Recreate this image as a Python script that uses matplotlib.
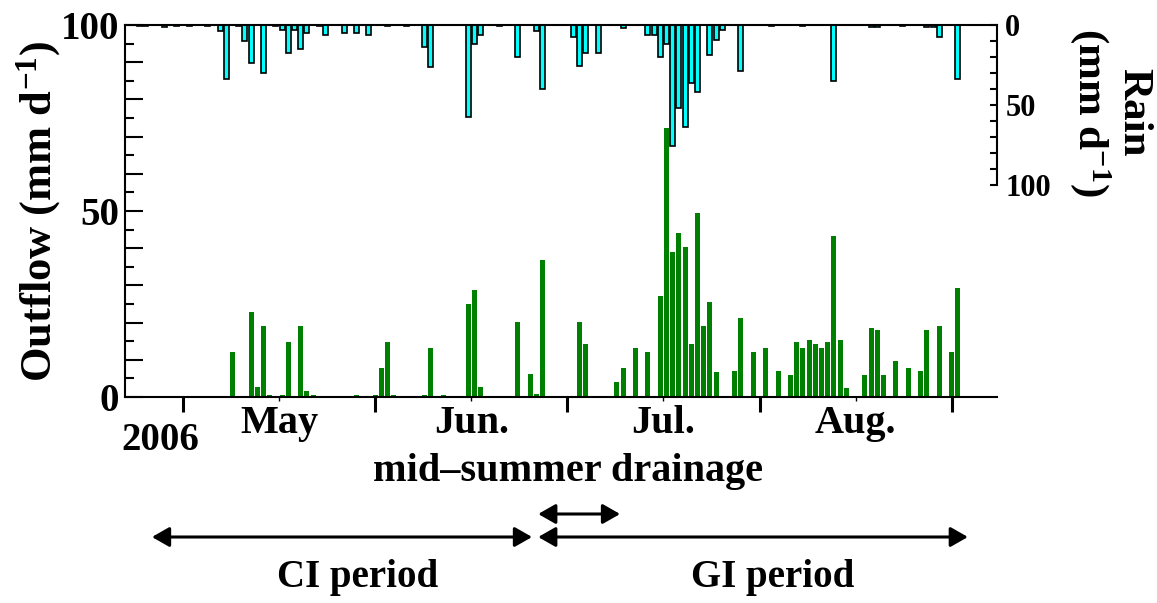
import matplotlib.pyplot as plt
from matplotlib.ticker import MultipleLocator, FuncFormatter

plt.rcParams['font.family'] = 'Liberation Serif'
plt.rcParams['font.weight'] = 'bold'
plt.rcParams['mathtext.fontset'] = 'custom'
plt.rcParams['mathtext.rm'] = 'Liberation Serif:bold'
plt.rcParams['mathtext.it'] = 'Liberation Serif:bold'
plt.rcParams['mathtext.bf'] = 'Liberation Serif:bold'

# days counted from 1 May 2006 (month ticks every 31 days)
out_day = [8, 11, 12, 13, 14, 16, 17, 19, 20, 21, 28, 31, 32, 33, 34,
           39, 40, 42, 46, 47, 48, 54, 56, 57, 58, 64, 65,
           70, 71, 73, 75, 77, 78, 79, 80, 81, 82, 83, 84, 85, 86,
           89, 90, 92, 94, 96, 98, 99, 100, 101, 102, 103, 104, 105, 106, 107,
           110, 111, 112, 113, 115, 117, 119, 120, 122, 124, 125]
out_mm = [12.1, 22.8, 2.8, 19.0, 0.5, 0.5, 14.7, 19.0, 1.7, 0.5, 0.5, 0.5, 7.7, 14.7, 0.5,
          0.5, 13.1, 0.5, 25.0, 28.8, 2.8, 20.1, 6.1, 0.7, 36.9, 20.1, 14.2,
          3.9, 7.7, 13.1, 12.0, 27.1, 72.2, 39.1, 44.0, 40.2, 14.2, 49.4, 19.0, 25.5, 6.6,
          7.1, 21.3, 12.0, 13.1, 7.1, 6.0, 14.7, 13.1, 15.2, 14.2, 13.1, 14.7, 43.3, 15.2, 2.3,
          6.0, 18.6, 17.9, 6.0, 9.8, 7.7, 7.1, 17.9, 19.0, 12.0, 29.3]

rain_day = [-7, -6, -3, -1, 1, 4, 6, 7, 9, 10, 11, 13, 15, 16, 17, 18, 19, 20,
            22, 23, 26, 28, 30, 33, 36, 39, 40, 46, 47, 48, 51, 54, 57, 58,
            63, 64, 65, 67, 71, 75, 76, 77, 78, 79, 80, 81, 82, 83, 85, 86, 87,
            90, 95, 100, 105, 111, 112, 116, 120, 121, 122, 125]
rain_mm = [0.8, 0.8, 1.5, 0.8, 0.8, 0.8, 3.75, 34.0, 0.8, 10.0, 24.0, 30.0, 0.8, 3.0, 17.7, 3.0, 15.2, 5.2,
           0.8, 6.3, 5.2, 5.2, 6.3, 0.8, 0.8, 14.0, 26.5, 57.7, 12.0, 6.3, 0.8, 20.2, 3.75, 40.2,
           7.7, 25.4, 17.7, 17.3, 2.0, 6.3, 6.0, 20.2, 12.0, 75.4, 52.0, 64.0, 36.0, 41.7, 18.75, 9.4, 3.0,
           28.75, 0.8, 0.8, 35.0, 1.0, 1.0, 0.8, 1.5, 1.5, 7.7, 34.0]

month_ticks = [0, 31, 62, 93, 124]
month_mid = [15.5, 46.5, 77.5, 108.5]
month_names = ['May', 'Jun.', 'Jul.', 'Aug.']

W, H = 1157, 603
fig = plt.figure(figsize=(W / 100, H / 100), dpi=100)


def box(x0, y0, x1, y1):
    return [x0 / W, 1 - y1 / H, (x1 - x0) / W, (y1 - y0) / H]


# outflow panel
ax = fig.add_axes(box(125, 25, 997, 397))
ax.bar(out_day, out_mm, width=0.8, color='#008000', linewidth=0)
ax.set_xlim(-9.35, 131.3)
ax.set_ylim(0, 100)
for s in ['top', 'right']:
    ax.spines[s].set_visible(False)
for s in ['left', 'bottom']:
    ax.spines[s].set_linewidth(1.5)

ax.yaxis.set_major_locator(MultipleLocator(10))
ax.yaxis.set_minor_locator(MultipleLocator(5))
ax.yaxis.set_major_formatter(FuncFormatter(lambda v, p: '%d' % v if v % 50 == 0 else ''))
ax.tick_params(axis='y', which='major', direction='in', length=13, width=1.5,
               labelsize=28, pad=4)
ax.tick_params(axis='y', which='minor', direction='in', length=6.5, width=1.5)

ax.set_xticks(month_ticks)
ax.set_xticklabels([''] * len(month_ticks))
ax.set_xticks(month_mid, minor=True)
ax.set_xticklabels(month_names, minor=True)
ax.tick_params(axis='x', which='major', direction='out', length=11, width=2.2)
ax.tick_params(axis='x', which='minor', direction='out', length=3, width=1,
               labelsize=29, pad=3)

ax.set_ylabel('Outflow (mm d$^{-1}$)', fontsize=32, fontweight='bold')
ax.yaxis.set_label_coords(-0.071, 0.5)

# rain panel, hanging from the top
ax2 = fig.add_axes(box(125, 25, 997, 185))
ax2.patch.set_visible(False)
ax2.bar(rain_day, rain_mm, width=0.8, color='#00ffff', edgecolor='black', linewidth=1.2)
ax2.set_xlim(-9.35, 131.3)
ax2.set_ylim(100, 0)
for s in ['left', 'bottom']:
    ax2.spines[s].set_visible(False)
for s in ['top', 'right']:
    ax2.spines[s].set_linewidth(1.5)
ax2.set_xticks([])
ax2.yaxis.tick_right()
ax2.yaxis.set_major_locator(MultipleLocator(10))
ax2.yaxis.set_major_formatter(FuncFormatter(lambda v, p: '%d' % v if v % 50 == 0 else ''))
ax2.tick_params(axis='y', direction='in', length=5, width=1.5, labelsize=22, pad=6)

fig.text(1110 / W, 1 - 112 / H, 'Rain\n(mm d$^{-1}$)', rotation=270, ha='center', va='center',
         multialignment='center', fontsize=31, fontweight='bold', linespacing=1.05)

fig.text(160 / W, 1 - 440 / H, '2006', ha='center', va='center', fontsize=28, fontweight='bold')
fig.text(568 / W, 1 - 472 / H, 'mid\u2013summer drainage', ha='center', va='center',
         fontsize=29, fontweight='bold')
fig.text(358 / W, 1 - 578 / H, 'CI period', ha='center', va='center', fontsize=28, fontweight='bold')
fig.text(773 / W, 1 - 578 / H, 'GI period', ha='center', va='center', fontsize=28, fontweight='bold')

arrow = dict(arrowstyle='<|-|>,head_length=0.7,head_width=0.4', color='black', lw=2.2,
             mutation_scale=15, shrinkA=0, shrinkB=0)
yb = 1 - 537 / H
ys = 1 - 514 / H
ax.annotate('', xy=(-5.0, yb), xytext=(56.3, yb), xycoords=('data', 'figure fraction'),
            textcoords=('data', 'figure fraction'), arrowprops=arrow, annotation_clip=False)
ax.annotate('', xy=(57.3, yb), xytext=(126.6, yb), xycoords=('data', 'figure fraction'),
            textcoords=('data', 'figure fraction'), arrowprops=arrow, annotation_clip=False)
ax.annotate('', xy=(57.3, ys), xytext=(70.5, ys), xycoords=('data', 'figure fraction'),
            textcoords=('data', 'figure fraction'), arrowprops=arrow, annotation_clip=False)

fig.savefig('out.png', dpi=100)
